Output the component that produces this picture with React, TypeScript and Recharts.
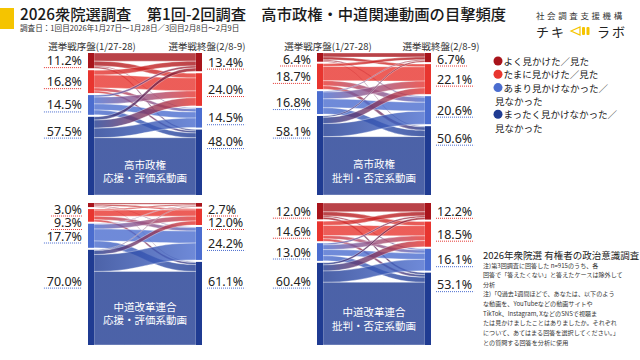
import { Sankey } from "recharts";

const levelColors = ["#a8141b", "#e8352f", "#4b6dcf", "#1f3b92"];
const underlineColors = ["#e53935", "#e53935", "#4b6dcf", "#4b6dcf"];

const legendLines = [
  ["よく見かけた／見た"],
  ["たまに見かけた／見た"],
  ["あまり見かけなかった／", "見なかった"],
  ["まったく見かけなかった／", "見なかった"],
];

// 高市政権 応援・評価系動画
const takaichiSupportEarly = [11.2, 16.8, 14.5, 57.5];
const takaichiSupportLate = [13.4, 24.0, 14.5, 48.0];
const takaichiSupportFlows = [
  [6.0, 3.5, 0.7, 1.0],
  [3.5, 9.5, 2.3, 1.5],
  [1.5, 5.0, 4.5, 3.5],
  [2.4, 6.0, 7.0, 42.1],
];

// 高市政権 批判・否定系動画
const takaichiCriticEarly = [6.4, 18.7, 16.8, 58.1];
const takaichiCriticLate = [6.7, 22.1, 20.6, 50.6];
const takaichiCriticFlows = [
  [3.0, 2.0, 0.8, 0.6],
  [2.0, 10.5, 3.7, 2.5],
  [0.7, 5.0, 6.5, 4.6],
  [1.0, 4.6, 9.6, 42.9],
];

// 中道改革連合 応援・評価系動画
const chudoSupportEarly = [3.0, 9.3, 17.7, 70.0];
const chudoSupportLate = [2.7, 12.0, 24.2, 61.1];
const chudoSupportFlows = [
  [1.0, 1.0, 0.5, 0.5],
  [0.8, 4.5, 2.5, 1.5],
  [0.4, 3.5, 8.8, 5.0],
  [0.5, 3.0, 12.4, 54.1],
];

// 中道改革連合 批判・否定系動画
const chudoCriticEarly = [12.0, 14.6, 13.0, 60.4];
const chudoCriticLate = [12.2, 18.5, 16.1, 53.1];
const chudoCriticFlows = [
  [6.5, 3.0, 1.0, 1.5],
  [3.0, 7.5, 2.3, 1.8],
  [1.2, 3.5, 4.5, 3.8],
  [1.5, 4.5, 8.3, 46.1],
];

const panelTitles = [
  ["高市政権", "応援・評価系動画"],
  ["高市政権", "批判・否定系動画"],
  ["中道改革連合", "応援・評価系動画"],
  ["中道改革連合", "批判・否定系動画"],
];

const noteLines = [
  "注)第3回調査に回答した n=915のうち、各",
  "回答で「答えたくない」と答えたケースは除外して",
  "分析",
  "注)「Q過去1週間ほどで、あなたは、以下のよう",
  "な動画を、YouTubeなどの動画サイトや",
  "TikTok、Instagram, XなどのSNSで視聴ま",
  "たは見かけましたことはありましたか。それぞれ",
  "について、あてはまる回答を選択してください。」",
  "との質問する回答を分析に使用",
];

const panelData = [
  { early: takaichiSupportEarly, late: takaichiSupportLate, flows: takaichiSupportFlows },
  { early: takaichiCriticEarly, late: takaichiCriticLate, flows: takaichiCriticFlows },
  { early: chudoSupportEarly, late: chudoSupportLate, flows: chudoSupportFlows },
  { early: chudoCriticEarly, late: chudoCriticLate, flows: chudoCriticFlows },
];
const panelPos = [
  { left: 28, top: 45 },
  { left: 257, top: 45 },
  { left: 28, top: 195 },
  { left: 257, top: 195 },
];

const W = 234;
const H = 156;
const MARGIN = { top: 8, right: 60, bottom: 6, left: 60 };
const INNER_H = H - MARGIN.top - MARGIN.bottom;
const JP = "'Noto Sans CJK JP', 'Noto Sans', sans-serif";
const NUM = "'Noto Sans', 'Noto Sans CJK JP', sans-serif";

function pctWidth(s: string, fs: number) {
  let w = 0;
  for (const c of s) w += c === "." ? 0.27 : c === "%" ? 0.82 : 0.572;
  return w * fs;
}

function SankeyPanel({ idx }: { idx: number }) {
  const { early, late, flows } = panelData[idx];
  const nodes = [
    ...early.map((v, i) => ({ name: `early${i}`, shown: v })),
    ...late.map((v, i) => ({ name: `late${i}`, shown: v })),
  ];
  const links = flows.flatMap((row, i) =>
    row.map((v, j) => ({ source: i, target: 4 + j, value: v }))
  );
  const lastY = [-1e9, -1e9];

  const renderNode = (p: any) => {
    const { x, y, width, height, index, payload } = p;
    if (index === 0) {
      lastY[0] = -1e9;
      lastY[1] = -1e9;
    }
    const depth = index < 4 ? 0 : 1;
    const level = index % 4;
    // label near the node's middle, big bottom node near its top, pushed down to avoid overlaps
    let ly = level === 3 ? Math.max(y + 12, MARGIN.top + INNER_H * 0.55) : Math.max(y + height / 2, y + 6);
    ly = Math.max(ly, lastY[depth] + 13.5);
    lastY[depth] = ly;
    const text = `${Number(payload.shown).toFixed(1)}%`;
    const fs = 12.5;
    const tw = pctWidth(text, fs);
    const tx = depth === 0 ? x - 6 : x + width + 6;
    const x1 = depth === 0 ? tx - tw - 3 : tx - 1;
    const x2 = depth === 0 ? tx : tx + tw + 2;
    return (
      <g>
        <rect x={x} y={y} width={width} height={height} fill={levelColors[level]} />
        <text
          x={tx}
          y={ly}
          textAnchor={depth === 0 ? "end" : "start"}
          dominantBaseline="central"
          fontSize={fs}
          fontFamily={NUM}
          fill="#222"
        >
          {text}
        </text>
        <line
          x1={x1}
          x2={x2}
          y1={ly + 7}
          y2={ly + 7}
          stroke={underlineColors[level]}
          strokeWidth={1}
          strokeDasharray="1 1"
        />
      </g>
    );
  };

  const renderLink = (p: any) => {
    const { sourceX, targetX, sourceY, targetY, sourceControlX, targetControlX, linkWidth, index } = p;
    const s = Math.floor(index / 4);
    const t = index % 4;
    const h = linkWidth / 2;
    const id = `lg${idx}-${index}`;
    const d = `M${sourceX},${sourceY - h} C${sourceControlX},${sourceY - h} ${targetControlX},${targetY - h} ${targetX},${targetY - h} L${targetX},${targetY + h} C${targetControlX},${targetY + h} ${sourceControlX},${sourceY + h} ${sourceX},${sourceY + h} Z`;
    const mx = (sourceX + targetX) / 2;
    const my = (sourceY + targetY) / 2;
    return (
      <g>
        <defs>
          <linearGradient id={id} x1="0" x2="1" y1="0" y2="0">
            <stop offset="0%" stopColor={levelColors[s]} />
            <stop offset="100%" stopColor={levelColors[t]} />
          </linearGradient>
        </defs>
        <path d={d} fill={`url(#${id})`} fillOpacity={0.8} stroke="#fff" strokeWidth={0.5} strokeOpacity={0.7} />
        {index === 15 && (
          <g fill="#fff" fontSize={10.5} fontFamily={JP} textAnchor="middle">
            <text x={mx} y={my - 2} dominantBaseline="central">{panelTitles[idx][0]}</text>
            <text x={mx} y={my + 11.5} dominantBaseline="central">{panelTitles[idx][1]}</text>
          </g>
        )}
      </g>
    );
  };

  return (
    <div style={{ position: "absolute", left: panelPos[idx].left, top: panelPos[idx].top, width: W, height: H }}>
      <Sankey
        width={W}
        height={H}
        data={{ nodes, links }}
        nodeWidth={6}
        nodePadding={2}
        iterations={0}
        linkCurvature={0.5}
        margin={MARGIN}
        node={renderNode}
        link={renderLink}
      />
    </div>
  );
}

export default function App() {
  return (
    <div style={{ position: "absolute", left: 0, top: 0, width: 640, height: 360, background: "#fff", overflow: "hidden" }}>
      <svg width={640} height={360} style={{ position: "absolute", left: 0, top: 0 }} fontFamily={JP}>
        <rect x={0} y={8} width={14} height={21} fill="#f5c400" />
        <text x={20} y={20} fontSize={15.3} fontWeight={500} fill="#1a1a1a">
          2026衆院選調査　第1回-2回調査　高市政権・中道関連動画の目撃頻度
        </text>
        <text x={20} y={31} fontSize={7.6} fill="#333">
          調査日：1回目2026年1月27日～1月28日／3回目2月8日～2月9日
        </text>

        <text x={536} y={19} fontSize={8.5} letterSpacing={2.6} fill="#333">社会調査支援機構</text>
        <text x={536} y={37} fontSize={13} letterSpacing={2} fill="#222">チキ</text>
        <path d="M571,31 L580,27 L580,35 Z" fill="none" stroke="#f5c400" strokeWidth={1.2} />
        <rect x={582} y={27} width={3} height={8} rx={1} fill="#f5c400" />
        <rect x={586.5} y={27} width={3} height={8} rx={1} fill="#f5c400" />
        <text x={597} y={37} fontSize={13} letterSpacing={2} fill="#222">ラボ</text>

        <g fontSize={9.5} fill="#333" textAnchor="middle">
          <text x={92} y={50}>選挙戦序盤(1/27-28)</text>
          <text x={207} y={50}>選挙戦終盤(2/8-9)</text>
          <text x={328} y={50}>選挙戦序盤(1/27-28)</text>
          <text x={441} y={50}>選挙戦終盤(2/8-9)</text>
        </g>

        {legendLines.map((lines, i) => {
          const base = 61 + [0, 1, 2, 4][i] * 13.3;
          return (
            <g key={i}>
              <circle cx={498} cy={base} r={4.5} fill={levelColors[i]} />
              {lines.map((l, k) => (
                <text key={k} x={k === 0 ? 503.5 : 495} y={base + k * 13.3} dominantBaseline="central" fontSize={9.5} fill="#222">
                  {l}
                </text>
              ))}
            </g>
          );
        })}

        <text x={483} y={254.5} dominantBaseline="central" fontSize={9.5} fill="#222">
          2026年衆院選 有権者の政治意識調査
        </text>
        {noteLines.map((l, i) => (
          <text key={i} x={483} y={265 + i * 9.65} dominantBaseline="central" fontSize={6.1} fill="#333">
            {l}
          </text>
        ))}
      </svg>
      {panelData.map((_, i) => (
        <SankeyPanel key={i} idx={i} />
      ))}
    </div>
  );
}
